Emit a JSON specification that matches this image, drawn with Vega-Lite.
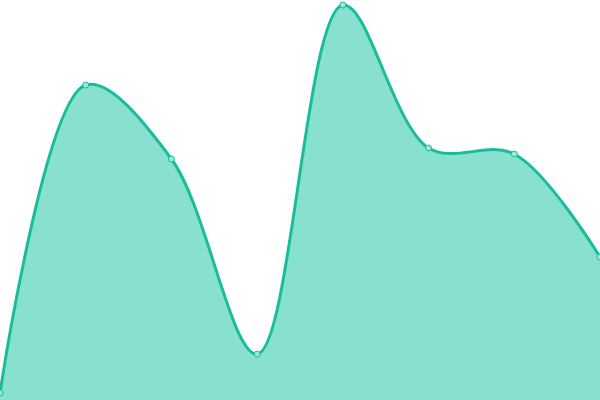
{
  "$schema": "https://vega.github.io/schema/vega-lite/v6.json",
  "width": 600,
  "height": 400,
  "padding": 0,
  "autosize": {"type": "none"},
  "config": {"view": {"stroke": null}},
  "data": {
    "values": [
      {"i": 0, "v": 7},
      {"i": 1, "v": 315},
      {"i": 2, "v": 241},
      {"i": 3, "v": 46},
      {"i": 4, "v": 395},
      {"i": 5, "v": 252},
      {"i": 6, "v": 246},
      {"i": 7, "v": 143}
    ]
  },
  "encoding": {
    "x": {"field": "i", "type": "quantitative", "axis": null, "scale": {"domain": [0, 7], "nice": false, "zero": false, "padding": 0}},
    "y": {"field": "v", "type": "quantitative", "axis": null, "scale": {"domain": [0, 400], "nice": false, "padding": 0}}
  },
  "layer": [
    {
      "mark": {"type": "area", "interpolate": "catmull-rom", "color": "#88e0cf", "clip": true}
    },
    {
      "mark": {"type": "line", "interpolate": "catmull-rom", "color": "#1abc9c", "strokeWidth": 3, "clip": true}
    },
    {
      "mark": {"type": "point", "filled": true, "fill": "#9ee8d8", "stroke": "#1abc9c", "strokeWidth": 1, "size": 36, "opacity": 1}
    }
  ]
}
